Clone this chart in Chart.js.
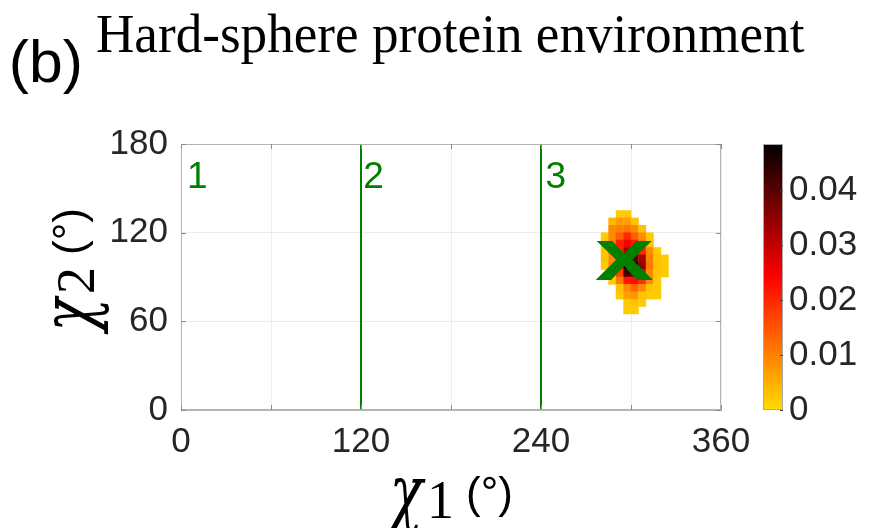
<!DOCTYPE html>
<html>
<head>
<meta charset="utf-8">
<script src="https://cdn.jsdelivr.net/npm/chart.js@4.4.1/dist/chart.umd.min.js"></script>
<style>
  html, body { margin: 0; padding: 0; background: #fff; }
  canvas { display: block; }
</style>
</head>
<body>
<canvas id="chart" width="870" height="528"></canvas>
<script>
// Axes
const chi1Ticks = [0, 60, 120, 180, 240, 300, 360];
const chi1Labels = [0, 120, 240, 360];
const chi2Ticks = [0, 60, 120, 180];
const cbTicks = [0, 0.01, 0.02, 0.03, 0.04];
const cbMax = 0.0484;

// 5 degree bins of the probability map (only the occupied area)
const binWidth = 5;
const chi1Centers = [282.5, 287.5, 292.5, 297.5, 302.5, 307.5, 312.5, 317.5, 322.5];
const chi2Centers = [132.5, 127.5, 122.5, 117.5, 112.5, 107.5, 102.5, 97.5, 92.5, 87.5, 82.5, 77.5, 72.5, 67.5];
const density = [
  [0,     0,     0.002, 0.002, 0,     0,     0,     0,     0    ],
  [0,     0.004, 0.007, 0.007, 0.003, 0,     0,     0,     0    ],
  [0,     0.009, 0.010, 0.011, 0.009, 0.003, 0,     0,     0    ],
  [0.002, 0.009, 0.014, 0.020, 0.014, 0.009, 0.002, 0,     0    ],
  [0.003, 0.010, 0.021, 0.025, 0.021, 0.010, 0.003, 0,     0    ],
  [0.003, 0.010, 0.021, 0.033, 0.031, 0.020, 0.009, 0.002, 0    ],
  [0.003, 0.009, 0.022, 0.040, 0.040, 0.032, 0.010, 0.003, 0.002],
  [0.002, 0.009, 0.021, 0.047, 0.046, 0.035, 0.011, 0.003, 0.002],
  [0,     0.003, 0.017, 0.042, 0.036, 0.026, 0.009, 0.003, 0.002],
  [0,     0.002, 0.011, 0.022, 0.023, 0.019, 0.009, 0.002, 0    ],
  [0,     0,     0.003, 0.009, 0.013, 0.009, 0.003, 0.002, 0    ],
  [0,     0,     0.002, 0.007, 0.008, 0.003, 0.002, 0.002, 0    ],
  [0,     0,     0,     0.002, 0.003, 0.002, 0,     0,     0    ],
  [0,     0,     0,     0.002, 0.002, 0,     0,     0,     0    ]
];

// Rotamer regions and the reference conformation
const boundaries = [120, 240];
const regionNames = ['1', '2', '3'];
const regionChi1 = [4, 121.5, 243];
const regionChi2 = 150;
const peakChi1 = 295.3;
const peakChi2 = 101;

const green = '#008000';
const textColor = '#262626';

function hotColor(v) {
  const t = Math.max(0, Math.min(1, v / cbMax));
  let r, g;
  if (t < 0.5) { r = 255; g = Math.round(220 * (1 - 2 * t)); }
  else { r = Math.round(255 * (2 - 2 * t)); g = 0; }
  return 'rgb(' + r + ',' + g + ',0)';
}

const cells = [];
chi2Centers.forEach(function(y, i) {
  chi1Centers.forEach(function(x, j) {
    if (density[i][j] > 0) cells.push({x: x, y: y, v: density[i][j]});
  });
});

function cellRadius(ctx) {
  const xs = ctx.chart.scales.x;
  const w = Math.abs(xs.getPixelForValue(binWidth) - xs.getPixelForValue(0));
  return (w + 0.4) / Math.SQRT2;
}

// text squeezed into a box
function drawFitted(ctx, text, font, left, top, w, h) {
  ctx.save();
  ctx.font = font;
  ctx.textAlign = 'left';
  ctx.textBaseline = 'alphabetic';
  const m = ctx.measureText(text);
  const gw = m.actualBoundingBoxLeft + m.actualBoundingBoxRight;
  const gh = m.actualBoundingBoxAscent + m.actualBoundingBoxDescent;
  ctx.translate(left, top);
  ctx.scale(w / gw, h / gh);
  ctx.fillText(text, m.actualBoundingBoxLeft, m.actualBoundingBoxAscent);
  ctx.restore();
}

// chi + index + (°), drawn around origin, baseline at y = 0
function drawAngleLabel(ctx, index) {
  const W = 130, s = -W / 2;
  ctx.fillStyle = '#000';
  drawFitted(ctx, 'χ', 'italic 60px "DejaVu Serif"', s, -41, 40, 56);
  ctx.font = '54px "Liberation Serif"';
  ctx.textAlign = 'left';
  ctx.textBaseline = 'alphabetic';
  ctx.fillText(index, s + 41, 0);
  ctx.font = '44px "Liberation Sans"';
  ctx.fillText('(°)', s + 80, -10);
}

const decor = {
  id: 'decor',
  afterDatasetsDraw(chart) {
    const ctx = chart.ctx;
    const a = chart.chartArea;
    const xs = chart.scales.x, ys = chart.scales.y;
    ctx.save();
    // box and inner ticks
    ctx.strokeStyle = '#b4b4b4';
    ctx.lineWidth = 1;
    ctx.strokeRect(a.left + 0.5, a.top + 0.5, a.right - a.left - 1, a.bottom - a.top - 1);
    ctx.strokeStyle = '#8c8c8c';
    ctx.beginPath();
    xs.ticks.forEach(function(t) {
      const px = Math.round(xs.getPixelForValue(t.value)) + 0.5;
      ctx.moveTo(px, a.bottom); ctx.lineTo(px, a.bottom - 5);
      ctx.moveTo(px, a.top); ctx.lineTo(px, a.top + 5);
    });
    ys.ticks.forEach(function(t) {
      const py = Math.round(ys.getPixelForValue(t.value)) + 0.5;
      ctx.moveTo(a.left, py); ctx.lineTo(a.left + 5, py);
      ctx.moveTo(a.right, py); ctx.lineTo(a.right - 5, py);
    });
    ctx.stroke();
    // region numbers
    ctx.fillStyle = green;
    ctx.font = '37px "Liberation Sans"';
    ctx.textAlign = 'left';
    ctx.textBaseline = 'alphabetic';
    regionNames.forEach(function(n, i) {
      ctx.fillText(n, xs.getPixelForValue(regionChi1[i]), ys.getPixelForValue(regionChi2));
    });
    // reference conformation
    const cx = xs.getPixelForValue(peakChi1), cy = ys.getPixelForValue(peakChi2);
    drawFitted(ctx, 'x', 'bold 60px "Liberation Sans"', cx - 29, cy - 19, 58, 38);
    ctx.restore();
  },
  afterDraw(chart) {
    const ctx = chart.ctx;
    const a = chart.chartArea;
    const cb = chart.scales.cb;
    ctx.save();
    // colorbar
    const top = cb.getPixelForValue(cbMax), bottom = cb.getPixelForValue(0);
    const bx = cb.left + 42, bw = 20;
    const grad = ctx.createLinearGradient(0, bottom, 0, top);
    for (let i = 0; i <= 20; i++) grad.addColorStop(i / 20, hotColor(cbMax * i / 20));
    ctx.fillStyle = grad;
    ctx.fillRect(bx, top, bw, bottom - top);
    ctx.strokeStyle = '#a8a8a8';
    ctx.strokeRect(bx + 0.5, top + 0.5, bw - 1, bottom - top - 1);
    ctx.strokeStyle = '#444';
    ctx.beginPath();
    cbTicks.forEach(function(v) {
      const py = Math.round(cb.getPixelForValue(v)) + 0.5;
      ctx.moveTo(bx + bw, py); ctx.lineTo(bx + bw - 3, py);
    });
    ctx.stroke();
    // panel letter and title
    ctx.fillStyle = '#000';
    drawFitted(ctx, '(b)', '56px "Liberation Sans"', 12, 40, 68, 55);
    drawFitted(ctx, 'Hard-sphere protein environment', '52px "Liberation Serif"', 97, 13, 708, 50);
    // axis titles
    ctx.save();
    ctx.translate((a.left + a.right) / 2, 518);
    drawAngleLabel(ctx, '1');
    ctx.restore();
    ctx.save();
    ctx.translate(94, (a.top + a.bottom) / 2 - 7);
    ctx.rotate(-Math.PI / 2);
    drawAngleLabel(ctx, '2');
    ctx.restore();
    ctx.restore();
  }
};

const tickFont = {family: '"Liberation Sans", Arial, sans-serif', size: 35};

const datasets = [{
  label: 'density',
  data: cells,
  pointStyle: 'rect',
  pointRadius: cellRadius,
  borderWidth: 0,
  backgroundColor: function(ctx) { return ctx.raw ? hotColor(ctx.raw.v) : 'transparent'; },
  order: 2
}];
boundaries.forEach(function(b) {
  datasets.push({
    label: 'boundary ' + b,
    data: [{x: b, y: chi2Ticks[0]}, {x: b, y: chi2Ticks[chi2Ticks.length - 1]}],
    showLine: true,
    borderColor: green,
    borderWidth: 2,
    pointRadius: 0,
    order: 1
  });
});

new Chart(document.getElementById('chart'), {
  type: 'scatter',
  data: {datasets: datasets},
  options: {
    responsive: false,
    animation: false,
    devicePixelRatio: 1,
    events: [],
    layout: {padding: {left: 40, top: 144, right: 0, bottom: 68}},
    plugins: {legend: {display: false}, tooltip: {enabled: false}},
    scales: {
      x: {
        type: 'linear', min: 0, max: 360,
        afterBuildTicks: function(s) { s.ticks = chi1Ticks.map(function(v) { return {value: v}; }); },
        afterFit: function(s) { s.height = 50; },
        ticks: {
          autoSkip: false, maxRotation: 0, padding: 11, color: textColor, font: tickFont,
          callback: function(v) { return chi1Labels.indexOf(v) >= 0 ? String(v) : ''; }
        },
        grid: {color: '#ececec', drawTicks: false},
        border: {color: '#b4b4b4'}
      },
      y: {
        type: 'linear', min: 0, max: 180,
        afterBuildTicks: function(s) { s.ticks = chi2Ticks.map(function(v) { return {value: v}; }); },
        afterFit: function(s) { s.width = 141; },
        ticks: {padding: 13, color: textColor, font: tickFont},
        grid: {color: '#ececec', drawTicks: false},
        border: {color: '#b4b4b4'}
      },
      cb: {
        type: 'linear', position: 'right', min: 0, max: cbMax,
        afterBuildTicks: function(s) { s.ticks = cbTicks.map(function(v) { return {value: v}; }); },
        afterFit: function(s) { s.width = 149; },
        ticks: {padding: 68, color: textColor, font: tickFont, callback: function(v) { return String(v); }},
        grid: {display: false, drawTicks: false},
        border: {display: false}
      }
    }
  },
  plugins: [decor]
});
</script>
</body>
</html>
